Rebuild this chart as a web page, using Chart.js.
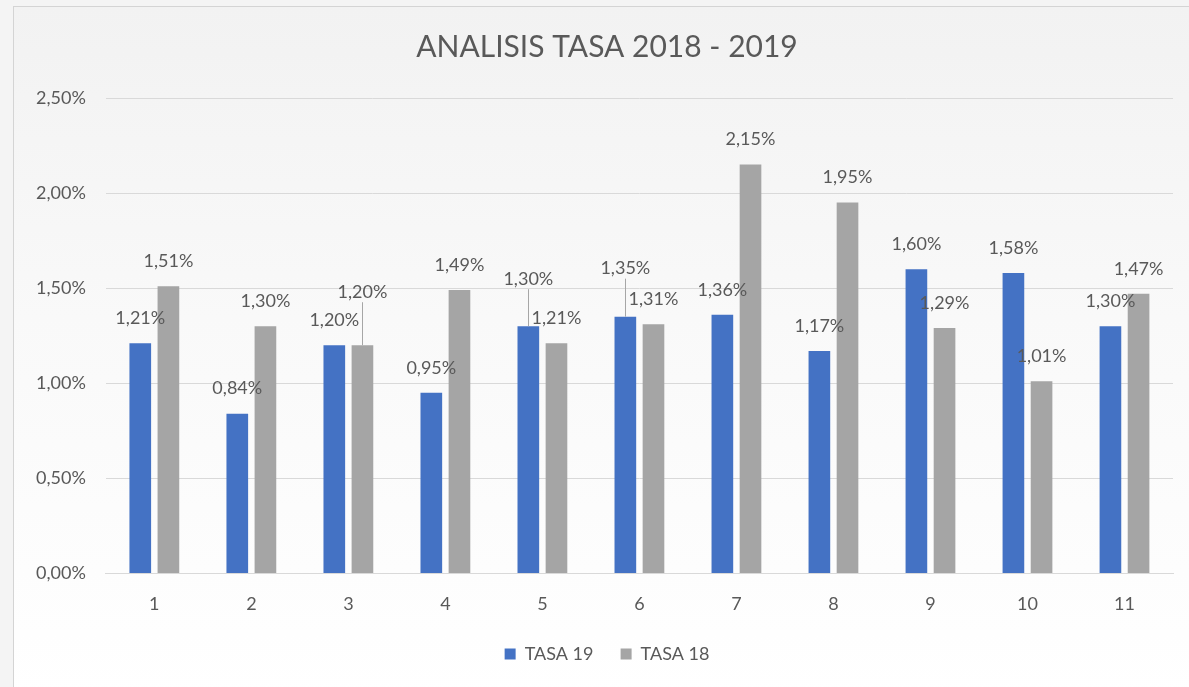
<!DOCTYPE html>
<html>
<head>
<meta charset="utf-8">
<script src="https://cdn.jsdelivr.net/npm/chart.js@4.4.1/dist/chart.umd.min.js"></script>
<style>
  html, body { margin: 0; padding: 0; background: #f4f4f4; }
  body { width: 1189px; height: 687px; position: relative; overflow: hidden; }
  .frame {
    position: absolute; left: 13px; top: 6px; width: 1190px; height: 690px;
    border: 1px solid #d4d4d4;
    background: linear-gradient(180deg, #f2f2f2 0%, #f9f9f9 45%, #ffffff 100%);
  }
  .frame canvas { display: block; }
</style>
</head>
<body>
<div class="frame">
  <canvas id="tasaChart" width="1190" height="681"></canvas>
</div>
<script>
// Analisis tasa 2018 - 2019
const categories = ['1', '2', '3', '4', '5', '6', '7', '8', '9', '10', '11'];
const tasa19 = [1.21, 0.84, 1.20, 0.95, 1.30, 1.35, 1.36, 1.17, 1.60, 1.58, 1.30];
const tasa18 = [1.51, 1.30, 1.20, 1.49, 1.21, 1.31, 2.15, 1.95, 1.29, 1.01, 1.47];
const yTicks = [0, 0.5, 1, 1.5, 2, 2.5];

const TEXT = '#595959';
const FONT = 'Lato, "Open Sans", sans-serif';

const fmtPct = v => v.toFixed(2).replace('.', ',') + '%';

// etiquetas de datos encima de cada barra (algunas subidas a mano, como en Excel)
const barLabels = {
  id: 'barLabels',
  afterDatasetsDraw(chart, args, opts) {
    const { ctx } = chart;
    const lift = opts.lift || {};
    ctx.save();
    ctx.font = '18px ' + FONT;
    ctx.fillStyle = TEXT;
    ctx.textAlign = 'center';
    ctx.textBaseline = 'middle';
    chart.data.datasets.forEach((ds, i) => {
      chart.getDatasetMeta(i).data.forEach((bar, j) => {
        const extra = lift[i + '-' + j] || 0;
        const y = bar.y - 25 - extra;
        if (extra) {
          ctx.strokeStyle = '#a6a6a6';
          ctx.lineWidth = 1;
          ctx.beginPath();
          ctx.moveTo(Math.round(bar.x) + 0.5, y + 10);
          ctx.lineTo(Math.round(bar.x) + 0.5, bar.y);
          ctx.stroke();
        }
        ctx.fillText(fmtPct(ds.data[j]), bar.x, y);
      });
    });
    ctx.restore();
  },
};

new Chart(document.getElementById('tasaChart'), {
  type: 'bar',
  data: {
    labels: categories,
    datasets: [
      { label: 'TASA 19', data: tasa19, backgroundColor: '#4472C4' },
      { label: 'TASA 18', data: tasa18, backgroundColor: '#A5A5A5' },
    ],
  },
  options: {
    responsive: false,
    animation: false,
    layout: { padding: { left: 2, right: 6, top: 22, bottom: 15 } },
    datasets: {
      bar: { barPercentage: 0.77, categoryPercentage: 0.58 },
    },
    scales: {
      x: {
        grid: { display: false },
        border: { display: true, color: '#d9d9d9' },
        ticks: { color: TEXT, font: { family: FONT, size: 18 }, padding: 12 },
      },
      y: {
        min: 0,
        max: 2.5,
        afterBuildTicks: axis => { axis.ticks = yTicks.map(v => ({ value: v })); },
        grid: { color: '#d9d9d9', drawTicks: false },
        border: { display: false },
        ticks: {
          color: TEXT,
          font: { family: FONT, size: 18 },
          padding: 20,
          callback: v => fmtPct(v),
        },
      },
      // margen vacio a la derecha del area de trazado
      pad: {
        type: 'linear',
        position: 'right',
        display: true,
        grid: { display: false },
        border: { display: false },
        ticks: { display: false },
        afterFit: axis => { axis.width = 25; },
      },
    },
    plugins: {
      title: {
        display: true,
        text: 'ANALISIS TASA 2018 - 2019',
        color: TEXT,
        font: { family: FONT, size: 30, weight: 'normal' },
        padding: { top: 0, bottom: 33 },
      },
      legend: {
        position: 'bottom',
        labels: {
          color: TEXT,
          font: { family: FONT, size: 18 },
          boxWidth: 11,
          boxHeight: 11,
          padding: 18,
          // un poco de aire entre las dos entradas de la leyenda
          generateLabels: chart => {
            const items = Chart.defaults.plugins.legend.labels.generateLabels(chart);
            items.forEach((it, i) => { if (i < items.length - 1) it.text += '  '; });
            return items;
          },
        },
      },
      tooltip: { enabled: false },
      barLabels: { lift: { '1-2': 28, '0-4': 22, '0-5': 23 } },
    },
  },
  plugins: [barLabels],
});
</script>
</body>
</html>
